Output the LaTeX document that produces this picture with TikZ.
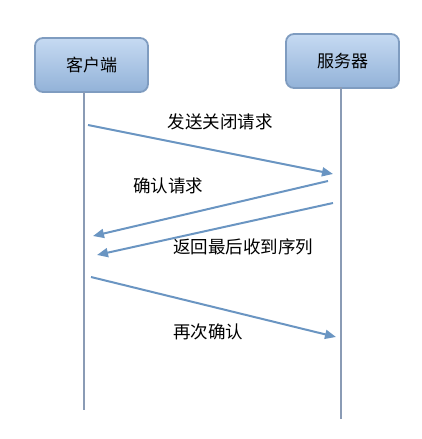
\documentclass[tikz,border=0pt]{standalone}
\usepackage{fontspec}
\newfontfamily\cjk{Noto Sans CJK SC}
\usetikzlibrary{arrows.meta}
\definecolor{boxtop}{HTML}{C6DAF2}
\definecolor{boxbot}{HTML}{92B2D8}
\definecolor{boxline}{HTML}{7F9CC0}
\definecolor{lifeline}{HTML}{8A9BB5}
\definecolor{msg}{HTML}{6A95C2}
\tikzset{
  actor/.style={draw=boxline, line width=1.8pt, rounded corners=8pt, top color=boxtop, bottom color=boxbot, minimum width=113pt, minimum height=54pt, font=\cjk\fontsize{17}{19}\selectfont},
  life/.style={draw=lifeline, line width=2pt},
  msgarrow/.style={draw=msg, line width=2pt, -{Triangle[length=11pt,width=9pt]}},
  lbl/.style={font=\cjk\fontsize{17.5}{19}\selectfont, text=black, inner sep=0pt}
}
\begin{document}
\begin{tikzpicture}[x=1pt,y=-1pt]
\useasboundingbox (0,0) rectangle (422,439);
\node[actor] (cbox) at (91.5,65) {客户端};
\node[actor] (sbox) at (342.5,61) {服务器};
\coordinate (ctop) at (84,92);
\coordinate (cbot) at (84,410);
\coordinate (stop) at (341,87);
\coordinate (sbot) at (341,419);
\draw[life] (ctop) -- (cbot);
\draw[life] (stop) -- (sbot);
\coordinate (a1s) at (88,125);
\coordinate (a1e) at (333,174);
\coordinate (a2s) at (328,181);
\coordinate (a2e) at (93,236);
\coordinate (a3s) at (333,203);
\coordinate (a3e) at (97,255);
\coordinate (a4s) at (91,277);
\coordinate (a4e) at (336,337);
\draw[msgarrow] (a1s) -- (a1e);
\draw[msgarrow] (a2s) -- (a2e);
\draw[msgarrow] (a3s) -- (a3e);
\draw[msgarrow] (a4s) -- (a4e);
\node[lbl] (l1) at (220,122) {发送关闭请求};
\node[lbl] (l2) at (168,186) {确认请求};
\node[lbl] (l3) at (243,247) {返回最后收到序列};
\node[lbl] (l4) at (208,332) {再次确认};
\end{tikzpicture}
\end{document}
